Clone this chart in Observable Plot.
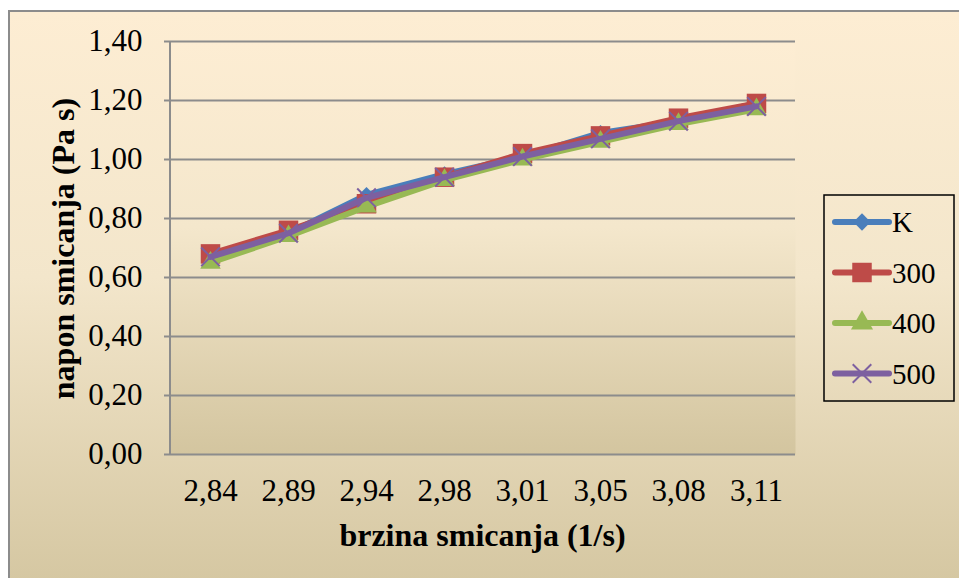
<!DOCTYPE html>
<html>
<head>
<meta charset="utf-8">
<script src="https://cdn.jsdelivr.net/npm/d3@7"></script>
<script src="https://cdn.jsdelivr.net/npm/@observablehq/plot@0.6"></script>
<style>
  html, body { margin: 0; padding: 0; background: #ffffff; overflow: hidden; }
  #page { position: relative; width: 959px; height: 578px; overflow: hidden; }
  #bg { position: absolute; left: 8px; top: 10px; width: 970px; height: 590px;
        border-left: 2px solid #8c8c8c; border-top: 2px solid #8c8c8c;
        background: linear-gradient(to bottom, #fdedd3 0%, #f3e6cb 45%, #d3c59f 100%); }
  #chart { position: absolute; left: 0; top: 0; width: 959px; height: 578px; }
  #chart svg text, #legend svg text { font-family: "Liberation Serif", "Times New Roman", serif; font-variant: normal; }
  #legend { position: absolute; left: 823px; top: 194px; }
</style>
</head>
<body>
<div id="page">
  <div id="bg"></div>
  <div id="chart"></div>
  <div id="legend"></div>
</div>
<script>
// ---- data ----
const categories = ["2,84", "2,89", "2,94", "2,98", "3,01", "3,05", "3,08", "3,11"];
const seriesNames = ["K", "300", "400", "500"];
const valuesK   = [0.67, 0.75, 0.88, 0.95, 1.01, 1.09, 1.13, 1.19];
const values300 = [0.68, 0.76, 0.85, 0.94, 1.02, 1.08, 1.14, 1.19];
const values400 = [0.65, 0.74, 0.84, 0.93, 1.00, 1.06, 1.12, 1.17];
const values500 = [0.67, 0.75, 0.87, 0.94, 1.01, 1.07, 1.13, 1.18];
const yTicks = [0, 0.2, 0.4, 0.6, 0.8, 1.0, 1.2, 1.4];
const colors = ["#4a7ebb", "#be4b48", "#98b954", "#7d60a0"];
const symbols = ["diamond2", "square", "triangle", "times"];
const xLabel = "brzina smicanja (1/s)";
const yLabel = "napon smicanja (Pa s)";

const allValues = [valuesK, values300, values400, values500];
const rows = [];
seriesNames.forEach((s, i) => {
  categories.forEach((c, j) => rows.push({series: s, x: c, y: allValues[i][j]}));
});

const fmt = d => d.toFixed(2).replace(".", ",");
const SVGNS = "http://www.w3.org/2000/svg";
const FONT = "'Liberation Serif', 'Times New Roman', serif";

const yAxisLine = (index, scales, values, dims) => {
  const l = document.createElementNS(SVGNS, "line");
  l.setAttribute("x1", dims.marginLeft);
  l.setAttribute("x2", dims.marginLeft);
  l.setAttribute("y1", dims.marginTop);
  l.setAttribute("y2", dims.height - dims.marginBottom);
  l.setAttribute("stroke", "#8c8c8c");
  l.setAttribute("stroke-width", 2);
  return l;
};

const axisTitles = (index, scales, values, dims) => {
  const g = document.createElementNS(SVGNS, "g");
  const cx = (dims.marginLeft + dims.width - dims.marginRight) / 2;
  const cy = (dims.marginTop + dims.height - dims.marginBottom) / 2;
  const tx = document.createElementNS(SVGNS, "text");
  tx.setAttribute("x", cx);
  tx.setAttribute("y", dims.height - dims.marginBottom + 92);
  tx.setAttribute("text-anchor", "middle");
  tx.setAttribute("font-weight", "bold");
  tx.setAttribute("font-size", "32px");
  tx.setAttribute("fill", "#000");
  tx.textContent = xLabel;
  g.appendChild(tx);
  const ty = document.createElementNS(SVGNS, "text");
  ty.setAttribute("transform", `translate(${dims.marginLeft - 96},${cy + 1}) rotate(-90)`);
  ty.setAttribute("text-anchor", "middle");
  ty.setAttribute("font-weight", "bold");
  ty.setAttribute("font-size", "32px");
  ty.setAttribute("fill", "#000");
  ty.textContent = yLabel;
  g.appendChild(ty);
  return g;
};

const markR = {K: 7.2, "300": 11, "400": 7.6, "500": 8.5};

const seriesMarks = seriesNames.flatMap((s, i) => {
  const data = rows.filter(d => d.series === s);
  const line = Plot.line(data, {x: "x", y: "y", stroke: colors[i], strokeWidth: 6, strokeLinejoin: "round", strokeLinecap: "round"});
  const dot = s === "500"
    ? Plot.dot(data, {x: "x", y: "y", symbol: () => symbols[i], stroke: colors[i], strokeWidth: 2, r: markR[s]})
    : Plot.dot(data, {x: "x", y: "y", symbol: () => symbols[i], fill: colors[i], stroke: "none", r: markR[s]});
  return [line, dot];
});

const plot = Plot.plot({
  width: 959,
  height: 578,
  marginLeft: 170,
  marginRight: 164,
  marginTop: 41,
  marginBottom: 124,
  style: {fontFamily: FONT, fontSize: "31px", color: "#000", background: "transparent", overflow: "visible"},
  x: {type: "point", domain: categories, padding: 0.5},
  y: {domain: [0, 1.4]},
  symbol: {type: "identity"},
  marks: [
    Plot.frame({fill: "url(#plotgrad)", stroke: "none"}),
    Plot.ruleY(yTicks, {stroke: "#8c8c8c", strokeWidth: 2}),
    yAxisLine,
    Plot.axisY(yTicks, {tickFormat: fmt, tickSize: 6, tickPadding: 22, stroke: "#8c8c8c", strokeWidth: 2, label: null, fontSize: 31, fontVariant: "normal"}),
    Plot.axisX({tickSize: 0, tickPadding: 24, label: null, fontSize: 31, fontVariant: "normal"}),
    axisTitles,
    ...seriesMarks
  ]
});

const svgSel = d3.select(plot);
const defs = svgSel.insert("defs", ":first-child");
const g = defs.append("linearGradient").attr("id", "plotgrad").attr("x1", 0).attr("y1", 0).attr("x2", 0).attr("y2", 1);
g.append("stop").attr("offset", "0%").attr("stop-color", "#fdedd3");
g.append("stop").attr("offset", "45%").attr("stop-color", "#f4e7cc");
g.append("stop").attr("offset", "100%").attr("stop-color", "#d3c59f");

document.getElementById("chart").appendChild(plot);

// ---- legend ----
const lw = 130, lh = 206;
const leg = d3.select("#legend").append("svg").attr("width", lw + 2).attr("height", lh + 2);
leg.append("rect").attr("x", 1).attr("y", 1).attr("width", lw).attr("height", lh)
  .attr("fill", "none").attr("stroke", "#000").attr("stroke-width", 1.5);
const symMap = {diamond2: d3.symbolDiamond2, square: d3.symbolSquare, triangle: d3.symbolTriangle, times: d3.symbolTimes};
const rs = [7.8, 11, 8.2, 8.5];
seriesNames.forEach((s, i) => {
  const cy = 28 + i * 50.5;
  const row = leg.append("g").attr("transform", `translate(0,${cy})`);
  row.append("line").attr("x1", 12).attr("x2", 66).attr("y1", 0).attr("y2", 0)
    .attr("stroke", colors[i]).attr("stroke-width", 6).attr("stroke-linecap", "round");
  const p = row.append("path").attr("d", d3.symbol(symMap[symbols[i]], Math.PI * rs[i] * rs[i])())
    .attr("transform", "translate(39,0)");
  if (i === 3) p.attr("fill", "none").attr("stroke", colors[i]).attr("stroke-width", 2);
  else p.attr("fill", colors[i]);
  row.append("text").attr("x", 69).attr("y", 0).attr("dy", "0.35em")
    .attr("font-size", 29).attr("fill", "#000").text(s);
});
</script>
</body>
</html>
